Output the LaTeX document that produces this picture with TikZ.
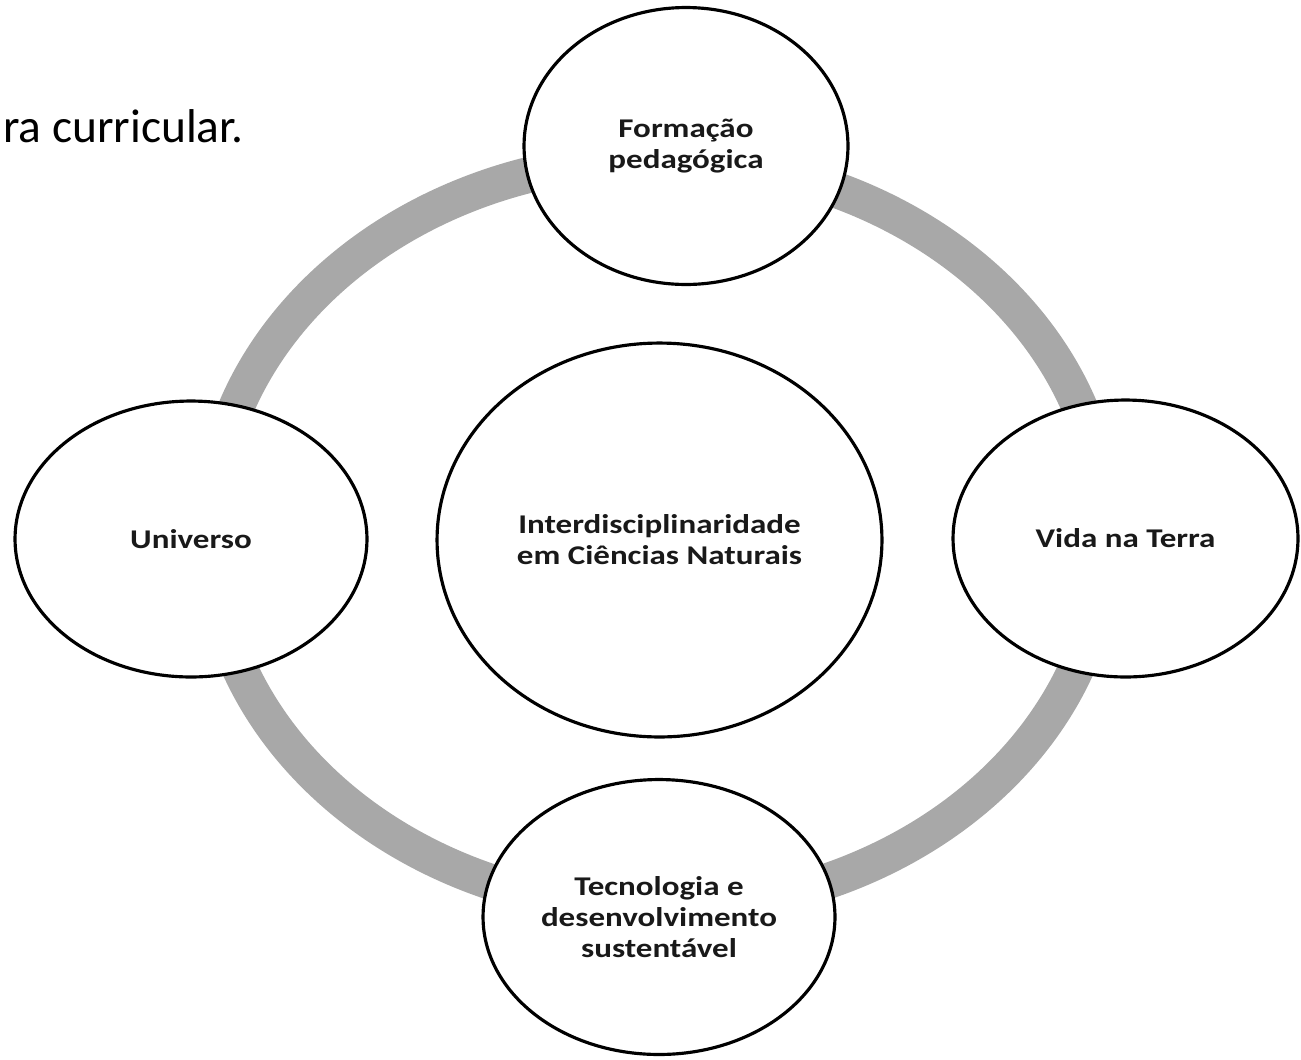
\documentclass[tikz,border=0pt]{standalone}
\usepackage{fontspec}
\setmainfont{Carlito}
\newfontfamily\bubblefamily[FakeStretch=1.22]{Carlito}
\usetikzlibrary{shapes.geometric}
\definecolor{ringgray}{RGB}{168,168,168}
\newcommand{\bubblefont}{\bubblefamily\bfseries\fontsize{15.4}{17.6}\selectfont}
\begin{document}
\begin{tikzpicture}[x=0.02cm,y=-0.02cm,
	bubble/.style={ellipse,draw=black,line width=1.8pt,fill=white,inner sep=0pt,align=center,text=black!90,font=\bubblefont},
	ring/.style={draw=ringgray,line width=0.72cm}]% Draw the ring
	\useasboundingbox (0,0) rectangle (1301,1059);
	\node[anchor=base west, font=\fontsize{27}{32}\selectfont] (caption) at (-3,142) {ra curricular.};
	\coordinate (hub) at (658,534);
	\draw[ring] (hub) ellipse [x radius=8.96cm, y radius=7.5cm];
	
	\node[bubble, minimum width=8.9cm, minimum height=7.88cm] (core) at (659.5,540) {Interdisciplinaridade\\em Ciências Naturais};
	\node[bubble, minimum width=6.48cm, minimum height=5.54cm] (formacao) at (686,146) {Formação\\pedagógica};
	\node[bubble, minimum width=6.9cm, minimum height=5.54cm] (vida) at (1125.5,538.5) {Vida na Terra};
	\node[bubble, minimum width=7.04cm, minimum height=5.5cm] (tecnologia) at (659,917) {Tecnologia e\\desenvolvimento\\sustentável};
	\node[bubble, minimum width=7.04cm, minimum height=5.52cm] (universo) at (191,539) {Universo};
\end{tikzpicture}
\end{document}
